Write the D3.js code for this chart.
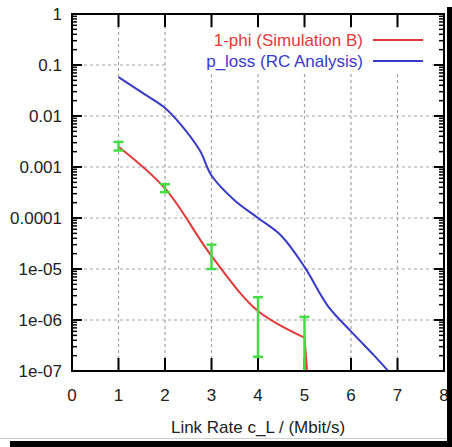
<!DOCTYPE html>
<html>
<head>
<meta charset="utf-8">
<script src="https://cdn.jsdelivr.net/npm/d3@7"></script>
<style>
  body { margin: 0; background: #fff; }
  svg { display: block; font-family: 'Liberation Sans', Arial, sans-serif; }
</style>
</head>
<body>
<div id="svg_container"></div>
<script>
// chart data
var x_ticks = [0, 1, 2, 3, 4, 5, 6, 7, 8];
var y_ticks = [1, 0.1, 0.01, 0.001, 0.0001, 1e-5, 1e-6, 1e-7];
var y_tick_labels = ['1', '0.1', '0.01', '0.001', '0.0001', '1e-05', '1e-06', '1e-07'];

// 1-phi (Simulation B), with error bars; last point is where the line falls off the axis
var sim_rate = [1, 2, 3, 4, 5, 5.08];
var sim_phi = [0.0025, 0.00038, 0.000018, 0.0000015, 0.00000045, 0.00000005];
var err_rate = [1, 2, 3, 4, 5];
var err_low = [0.0021, 0.00032, 0.00001, 0.00000019, 0.00000001];
var err_high = [0.0031, 0.00046, 0.00003, 0.0000028, 0.00000115];

// p_loss (RC Analysis)
var rc_rate = [1, 1.5, 2, 2.3, 2.75, 3, 3.5, 4, 4.5, 5, 5.5, 6, 6.5, 6.8];
var rc_loss = [0.058, 0.029, 0.0144, 0.0075, 0.0021, 0.00068, 0.00022, 0.0001, 0.000045, 0.000011, 0.0000019, 0.0000006, 0.0000002, 0.0000001];

var series_names = ['1-phi (Simulation B)', 'p_loss (RC Analysis)'];
var series_colors = ['#e03a3a', '#3a3ac8'];

var width = 452, height = 447;
var left = 72, top_ = 14, right = 444, bottom = 371;

var svg = d3.select('#svg_container')
  .append('svg')
    .attr('width', width)
    .attr('height', height);

var x = d3.scaleLinear().domain([0, 8]).range([left, right]);
var y = d3.scaleLog().domain([1e-7, 1]).range([bottom, top_]);

svg.append('defs').append('clipPath')
    .attr('id', 'plot_clip')
  .append('rect')
    .attr('x', left)
    .attr('y', top_)
    .attr('width', right - left)
    .attr('height', bottom - top_);

// dotted grid, drawn as short dashes
var grid = svg.append('g')
    .attr('stroke', '#a4a4a4')
    .attr('stroke-width', 1.2)
    .attr('stroke-dasharray', '3 3');
grid.selectAll('line.gx')
  .data(x_ticks.slice(1, -1))
  .enter().append('line')
    .attr('class', 'gx')
    .attr('x1', function(d) { return x(d); })
    .attr('x2', function(d) { return x(d); })
    .attr('y1', top_)
    .attr('y2', bottom);
grid.selectAll('line.gy')
  .data(y_ticks.slice(1, -1))
  .enter().append('line')
    .attr('class', 'gy')
    .attr('y1', function(d) { return y(d); })
    .attr('y2', function(d) { return y(d); })
    .attr('x1', left)
    .attr('x2', right);

// opaque key box hides the grid behind the legend
svg.append('rect')
    .attr('x', 168)
    .attr('y', 28)
    .attr('width', right - 12 - 168)
    .attr('height', 44)
    .attr('fill', '#fff');

// minor log ticks on both sides
var minor = [];
y_ticks.slice(1).forEach(function(t) {
  for (var k = 2; k < 10; k++) minor.push(t * k);
});
var ticks_g = svg.append('g').attr('stroke', '#000');
ticks_g.selectAll('line.ml')
  .data(minor)
  .enter().append('line')
    .attr('class', 'ml')
    .attr('x1', left).attr('x2', left + 5)
    .attr('y1', function(d) { return y(d); })
    .attr('y2', function(d) { return y(d); })
    .attr('stroke-width', 1.5);
ticks_g.selectAll('line.mr')
  .data(minor)
  .enter().append('line')
    .attr('class', 'mr')
    .attr('x1', right).attr('x2', right - 5)
    .attr('y1', function(d) { return y(d); })
    .attr('y2', function(d) { return y(d); })
    .attr('stroke-width', 1.5);
ticks_g.selectAll('line.yl')
  .data(y_ticks)
  .enter().append('line')
    .attr('class', 'yl')
    .attr('x1', left).attr('x2', left + 10)
    .attr('y1', function(d) { return y(d); })
    .attr('y2', function(d) { return y(d); })
    .attr('stroke-width', 2);
ticks_g.selectAll('line.yr')
  .data(y_ticks)
  .enter().append('line')
    .attr('class', 'yr')
    .attr('x1', right).attr('x2', right - 10)
    .attr('y1', function(d) { return y(d); })
    .attr('y2', function(d) { return y(d); })
    .attr('stroke-width', 2);
ticks_g.selectAll('line.xb')
  .data(x_ticks)
  .enter().append('line')
    .attr('class', 'xb')
    .attr('x1', function(d) { return x(d); })
    .attr('x2', function(d) { return x(d); })
    .attr('y1', bottom).attr('y2', bottom - 13)
    .attr('stroke-width', 2);
ticks_g.selectAll('line.xt')
  .data(x_ticks)
  .enter().append('line')
    .attr('class', 'xt')
    .attr('x1', function(d) { return x(d); })
    .attr('x2', function(d) { return x(d); })
    .attr('y1', top_).attr('y2', top_ + 13)
    .attr('stroke-width', 2);

// tick labels
svg.append('g')
    .attr('font-size', 17)
    .attr('fill', '#222')
    .attr('text-anchor', 'end')
  .selectAll('text')
  .data(y_ticks)
  .enter().append('text')
    .attr('x', left - 10)
    .attr('y', function(d) { return y(d); })
    .attr('dy', '0.35em')
    .text(function(d, i) { return y_tick_labels[i]; });

svg.append('g')
    .attr('font-size', 17)
    .attr('fill', '#222')
    .attr('text-anchor', 'middle')
  .selectAll('text')
  .data(x_ticks)
  .enter().append('text')
    .attr('x', function(d) { return x(d); })
    .attr('y', 401)
    .text(function(d) { return d; });

svg.append('text')
    .attr('x', (left + right) / 2)
    .attr('y', 433)
    .attr('font-size', 17)
    .attr('fill', '#222')
    .attr('text-anchor', 'middle')
    .text('Link Rate c_L / (Mbit/s)');

// curves
var plot = svg.append('g').attr('clip-path', 'url(#plot_clip)');

var line = d3.line()
    .x(function(d) { return x(d[0]); })
    .y(function(d) { return y(d[1]); })
    .curve(d3.curveCatmullRom.alpha(0.5));

plot.append('path')
    .datum(d3.zip(rc_rate, rc_loss))
    .attr('fill', 'none')
    .attr('stroke', series_colors[1])
    .attr('stroke-width', 2)
    .attr('d', line);

// smooth part through the measured points, then the straight drop
var sim = d3.zip(sim_rate, sim_phi);
plot.append('path')
    .datum(sim.slice(0, -1))
    .attr('fill', 'none')
    .attr('stroke', series_colors[0])
    .attr('stroke-width', 2)
    .attr('d', line);
plot.append('path')
    .datum(sim.slice(-2))
    .attr('fill', 'none')
    .attr('stroke', series_colors[0])
    .attr('stroke-width', 2)
    .attr('d', d3.line()
      .x(function(d) { return x(d[0]); })
      .y(function(d) { return y(d[1]); }));

// error bars
var err = plot.append('g')
    .attr('stroke', '#44dd44')
    .attr('stroke-width', 2.5)
  .selectAll('g')
  .data(err_rate)
  .enter().append('g');

err.append('line')
    .attr('x1', function(d) { return x(d); })
    .attr('x2', function(d) { return x(d); })
    .attr('y1', function(d, i) { return y(err_low[i]); })
    .attr('y2', function(d, i) { return y(err_high[i]); });
err.append('line')
    .attr('x1', function(d) { return x(d) - 5; })
    .attr('x2', function(d) { return x(d) + 5; })
    .attr('y1', function(d, i) { return y(err_low[i]); })
    .attr('y2', function(d, i) { return y(err_low[i]); });
err.append('line')
    .attr('x1', function(d) { return x(d) - 5; })
    .attr('x2', function(d) { return x(d) + 5; })
    .attr('y1', function(d, i) { return y(err_high[i]); })
    .attr('y2', function(d, i) { return y(err_high[i]); });

// frame
svg.append('rect')
    .attr('x', left)
    .attr('y', top_)
    .attr('width', right - left)
    .attr('height', bottom - top_)
    .attr('fill', 'none')
    .attr('stroke', '#000')
    .attr('stroke-width', 2);

// legend
var legend = svg.append('g')
    .attr('font-size', 17)
    .attr('text-anchor', 'end')
  .selectAll('g')
  .data(series_names)
  .enter().append('g')
    .attr('transform', function(d, i) { return 'translate(0,' + (40 + i * 21) + ')'; });

legend.append('text')
    .attr('x', 363)
    .attr('dy', '0.35em')
    .attr('fill', function(d, i) { return series_colors[i]; })
    .text(function(d) { return d; });

legend.append('line')
    .attr('x1', 373)
    .attr('x2', 423)
    .attr('stroke', function(d, i) { return series_colors[i]; })
    .attr('stroke-width', 2);

// black shadow bars of the scanned figure
svg.append('line')
    .attr('x1', 0).attr('x2', 447)
    .attr('y1', 438.5).attr('y2', 438.5)
    .attr('stroke', '#ccc');
svg.append('rect')
    .attr('x', 10).attr('y', 441)
    .attr('width', width - 10).attr('height', 6)
    .attr('fill', '#000');
svg.append('rect')
    .attr('x', 447).attr('y', 7)
    .attr('width', 5).attr('height', height - 7)
    .attr('fill', '#000');
</script>
</body>
</html>
